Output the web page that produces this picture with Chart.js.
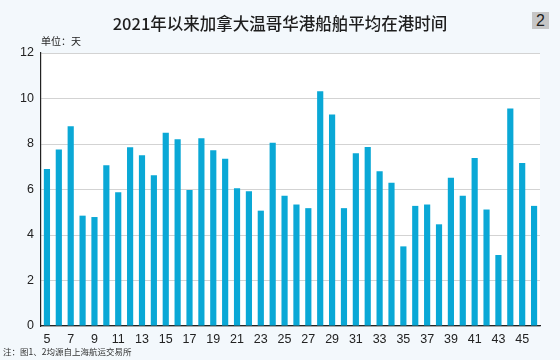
<!DOCTYPE html>
<html><head><meta charset="utf-8">
<script src="https://cdn.jsdelivr.net/npm/chart.js@4/dist/chart.umd.min.js"></script>
<style>
html,body{margin:0;padding:0;background:#f3f8fc;}
#wrap{position:relative;width:560px;height:360px;overflow:hidden;background:#f3f8fc;font-family:"Liberation Sans",Arial,sans-serif;}
canvas{position:absolute;left:0;top:0;}
#title{position:absolute;left:0;width:560px;top:11px;text-align:center;font-family:"Noto Sans CJK SC","Liberation Sans",sans-serif;font-size:16.5px;font-weight:500;color:#1e1e1e;line-height:24px;}
#badge{position:absolute;left:532px;top:12px;width:17px;height:17px;background:#c6c6c6;color:#1e1e1e;font-size:16px;line-height:17px;text-align:center;}
#unit{position:absolute;left:41px;top:34px;font-family:"Noto Sans CJK SC",sans-serif;font-size:10px;color:#222;line-height:14px;}
#note{position:absolute;left:3px;top:345px;font-family:"Noto Sans CJK SC",sans-serif;font-size:8.5px;color:#333;line-height:12px;}
</style></head>
<body><div id="wrap">
<canvas id="c" width="560" height="360"></canvas>
<div id="title">2021年以来加拿大温哥华港船舶平均在港时间</div>
<div id="badge">2</div>
<div id="unit">单位：天</div>
<div id="note">注：图1、2均源自上海航运交易所</div>
</div>
<script>
const weeks = [5,6,7,8,9,10,11,12,13,14,15,16,17,18,19,20,21,22,23,24,25,26,27,28,29,30,31,32,33,34,35,36,37,38,39,40,41,42,43,44,45,46];
const portDays = [6.90,7.76,8.78,4.85,4.79,7.07,5.88,7.86,7.51,6.63,8.49,8.21,5.98,8.25,7.73,7.35,6.06,5.92,5.07,8.05,5.72,5.34,5.18,10.32,9.30,5.18,7.59,7.87,6.80,6.30,3.50,5.28,5.34,4.47,6.52,5.72,7.39,5.12,3.12,9.56,7.17,5.28];
const yTicks = [0,2,4,6,8,10,12];

const bgPlugin = {
  id:'bg',
  beforeDraw(chart){
    const {ctx, chartArea:a} = chart;
    ctx.save();
    ctx.fillStyle='#ffffff';
    ctx.fillRect(a.left, a.top, a.right-a.left, a.bottom-a.top);
    ctx.restore();
  }
};

new Chart(document.getElementById('c'), {
  type:'bar',
  data:{
    labels: weeks.map(String),
    datasets:[{data: portDays, backgroundColor:'#0aa8d6', barPercentage:0.52, categoryPercentage:1.0}]
  },
  options:{
    responsive:false, animation:false,
    layout:{padding:{left:0,right:20,top:53,bottom:0}},
    plugins:{legend:{display:false}, tooltip:{enabled:false}},
    scales:{
      x:{
        grid:{display:false, drawTicks:false},
        border:{color:'#222', width:1.2},
        ticks:{autoSkip:false, maxRotation:0, color:'#222', padding:6,
          font:{family:'"Liberation Sans", Arial, sans-serif', size:12.5},
          callback:function(v,i){ const w = weeks[i]; return (w % 2 === 1) ? String(w) : ''; }},
        afterFit(s){ s.height = 34; }
      },
      y:{
        min:0, max:12,
        afterBuildTicks(s){ s.ticks = yTicks.map(v=>({value:v})); },
        grid:{color:'#d3d3d3', lineWidth:1, drawTicks:false},
        border:{color:'#222', width:1.2},
        ticks:{color:'#222', padding:7, font:{family:'"Liberation Sans", Arial, sans-serif', size:12.5}},
        afterFit(s){ s.width = 41; }
      }
    }
  },
  plugins:[bgPlugin]
});
</script>
</body></html>
